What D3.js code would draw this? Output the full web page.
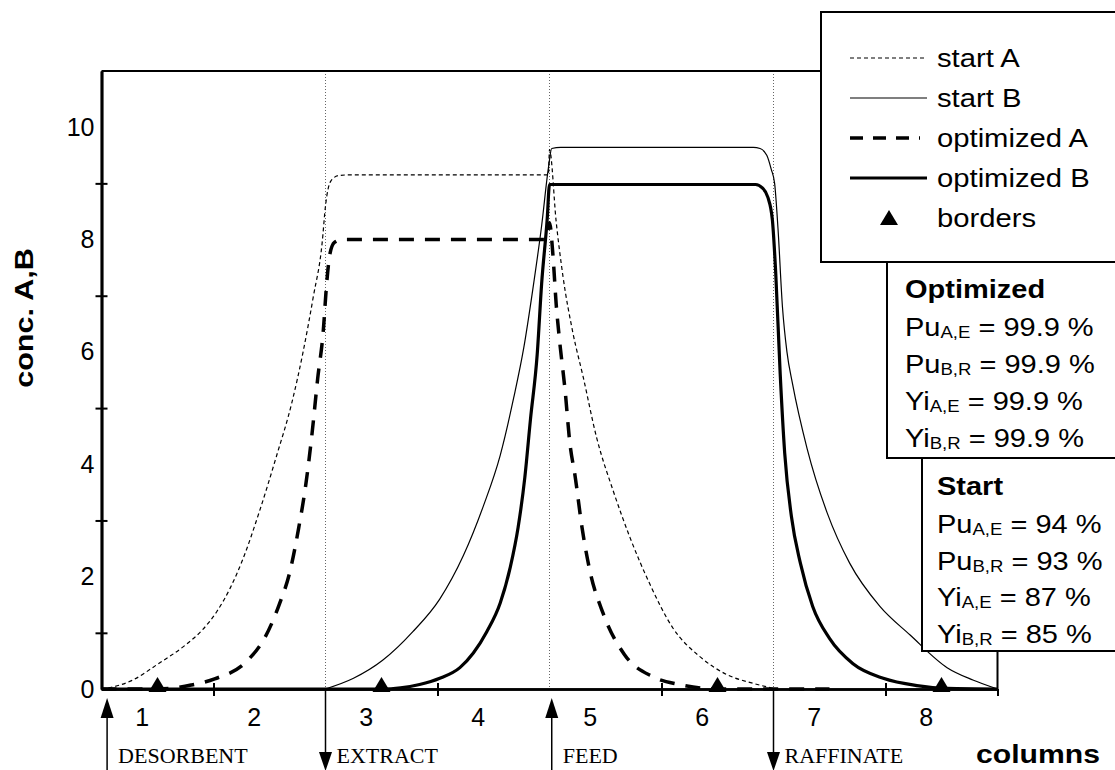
<!DOCTYPE html>
<html>
<head>
<meta charset="utf-8">
<script src="https://d3js.org/d3.v7.min.js"></script>
<style>
  body { margin: 0; background: #fff; }
  text { font-family: "Liberation Sans", Arial, sans-serif; fill: #000; }
</style>
</head>
<body>
<div id="chart"></div>
<script>
// concentration profiles, [column, conc]
var startA = [[0,0],[0.06,0.02],[0.28,0.16],[0.5,0.44],[0.76,0.8],[0.9,1.05],[1.03,1.38],[1.15,1.8],[1.26,2.3],[1.41,3.16],[1.56,4.13],[1.7,5.1],[1.8,6.0],[1.89,6.97],[1.97,7.94],[2.0,8.6],[2.05,9.05],[2.12,9.14],[2.2,9.15],[3.99,9.15],[4.0,9.6],[4.06,8.31],[4.12,7.35],[4.21,6.33],[4.3,5.56],[4.42,4.48],[4.57,3.52],[4.72,2.69],[4.9,1.85],[5.1,1.09],[5.34,0.58],[5.58,0.26],[5.82,0.1],[6.0,0.01]];
var startB = [[2.0,0],[2.25,0.19],[2.51,0.51],[2.78,1.02],[3.02,1.6],[3.23,2.37],[3.41,3.26],[3.56,4.16],[3.68,5.18],[3.77,6.07],[3.85,7.1],[3.93,8.25],[3.99,9.27],[4.02,9.62],[4.1,9.64],[5.82,9.64],[5.88,9.62],[5.94,9.5],[5.98,9.25],[6.01,9.0],[6.04,8.2],[6.08,6.8],[6.12,6.0],[6.17,5.43],[6.3,4.28],[6.48,3.13],[6.68,2.24],[6.95,1.47],[7.22,0.96],[7.55,0.38],[7.78,0.16],[8.0,0]];
var optA = [[0,0],[0.5,0],[0.8,0.07],[1.01,0.18],[1.3,0.5],[1.46,0.92],[1.59,1.52],[1.68,2.07],[1.76,2.86],[1.82,3.58],[1.88,4.55],[1.93,5.52],[1.98,6.37],[2.01,7.21],[2.04,7.75],[2.08,7.95],[2.15,8.0],[3.96,8.0],[4.0,8.3],[4.03,7.74],[4.06,6.84],[4.09,6.2],[4.14,5.3],[4.18,4.41],[4.23,3.77],[4.29,2.88],[4.36,2.11],[4.48,1.34],[4.67,0.61],[4.92,0.22],[5.16,0.08],[5.4,0.01],[5.6,0],[6.5,0]];
var optB = [[0,0],[2.5,0],[2.84,0.08],[3.02,0.19],[3.2,0.38],[3.32,0.64],[3.44,1.02],[3.56,1.53],[3.65,2.17],[3.72,2.88],[3.78,3.77],[3.83,4.8],[3.89,5.95],[3.93,7.22],[3.98,8.38],[4.0,8.98],[4.05,8.98],[5.84,8.98],[5.9,8.92],[5.95,8.75],[5.99,8.35],[6.02,7.4],[6.06,5.6],[6.1,4.2],[6.16,3.07],[6.24,2.24],[6.35,1.47],[6.5,0.9],[6.71,0.45],[6.98,0.19],[7.28,0.06],[7.55,0.01],[8.0,0]];

var borders = [0.5, 2.5, 5.5, 7.5];
var yLabels = [0, 2, 4, 6, 8, 10];
var yTicks = [1, 3, 5, 7, 9];
var columns = [1, 2, 3, 4, 5, 6, 7, 8];
var xTicks = [1, 3, 5, 7, 8];
var boundaries = [2, 4, 6];
var ports = [
  { name: "DESORBENT", col: 0.05, dir: "in" },
  { name: "EXTRACT", col: 2, dir: "out" },
  { name: "FEED", col: 4.02, dir: "in" },
  { name: "RAFFINATE", col: 6, dir: "out" }
];
var legendNames = ["start A", "start B", "optimized A", "optimized B", "borders"];
var optStats = [["Pu", "A,E", "99.9"], ["Pu", "B,R", "99.9"], ["Yi", "A,E", "99.9"], ["Yi", "B,R", "99.9"]];
var startStats = [["Pu", "A,E", "94"], ["Pu", "B,R", "93"], ["Yi", "A,E", "87"], ["Yi", "B,R", "85"]];

var width = 1115, height = 770;

var svg = d3.select("#chart").append("svg")
  .attr("width", width)
  .attr("height", height);

var x = d3.scaleLinear().domain([0, 8]).range([101.5, 997.5]);
var y = d3.scaleLinear().domain([0, 11]).range([689, 71]);

// text helper, sx stretches glyphs horizontally like the scan
function txt(sel, tx, ty, s, o) {
  o = o || {};
  var t = sel.append("text")
    .attr("transform", "translate(" + tx + "," + ty + ")" + (o.rot ? " rotate(" + o.rot + ")" : "") + " scale(" + (o.sx || 1) + ",1)")
    .style("font-size", (o.size || 25) + "px")
    .style("font-weight", o.weight || "normal");
  if (o.anchor) t.attr("text-anchor", o.anchor);
  if (o.family) t.style("font-family", o.family);
  if (s !== null) t.text(s);
  return t;
}

// column boundaries (dotted)
svg.append("g").selectAll("line")
  .data(boundaries).enter().append("line")
  .attr("x1", d => x(d)).attr("x2", d => x(d))
  .attr("y1", y(11)).attr("y2", y(0))
  .attr("stroke", "#666").attr("stroke-width", 1)
  .attr("stroke-dasharray", "1,2");

// frame top/right
svg.append("path")
  .attr("d", "M" + x(0) + "," + y(11) + "H" + x(8) + "V" + y(0))
  .attr("fill", "none").attr("stroke", "#000").attr("stroke-width", 2);

// curves
var line = d3.line()
  .x(d => x(d[0]))
  .y(d => y(d[1]))
  .curve(d3.curveMonotoneX);

var series = [
  { data: startA, w: 1.2, dash: "4,3" },
  { data: startB, w: 1.2, dash: null },
  { data: optA, w: 3.5, dash: "15,11" },
  { data: optB, w: 3.2, dash: null }
];
svg.append("g").selectAll("path")
  .data(series).enter().append("path")
  .attr("d", d => line(d.data))
  .attr("fill", "none")
  .attr("stroke", "#000")
  .attr("stroke-width", d => d.w)
  .attr("stroke-dasharray", d => d.dash);

// Y axis: crossing ticks at odd values, labels at even values
function styleAxis(g) {
  g.attr("font-family", null).attr("font-size", null);
  g.select(".domain").attr("stroke-width", 2.5);
  g.selectAll(".tick line").attr("stroke-width", 2);
  g.selectAll(".tick text").style("font-size", "25px");
}
svg.append("g").attr("transform", "translate(" + x(0) + ",0)")
  .call(d3.axisLeft(y).tickValues(yTicks).tickSize(6).tickSizeOuter(0).tickFormat(""))
  .call(styleAxis);
svg.append("g").attr("transform", "translate(" + x(0) + ",0)")
  .call(d3.axisRight(y).tickValues(yTicks).tickSize(6).tickSizeOuter(0).tickFormat(""))
  .call(styleAxis);
svg.append("g").attr("transform", "translate(" + x(0) + ",0)")
  .call(d3.axisLeft(y).tickValues(yLabels).tickSize(0).tickSizeOuter(0).tickPadding(7).tickFormat(d3.format("d")))
  .call(styleAxis);

// X axis
svg.append("g").attr("transform", "translate(0," + y(0) + ")")
  .call(d3.axisBottom(x).tickValues(xTicks).tickSize(7).tickSizeOuter(0).tickFormat(""))
  .call(styleAxis);
svg.append("g").attr("transform", "translate(0," + y(0) + ")")
  .call(d3.axisTop(x).tickValues(xTicks.slice(0, 4)).tickSize(6).tickSizeOuter(0).tickFormat(""))
  .call(styleAxis);
svg.append("g").attr("transform", "translate(0," + y(0) + ")")
  .call(d3.axisBottom(x).tickValues(columns.map(c => c - 0.64)).tickSize(0).tickSizeOuter(0).tickPadding(19)
    .tickFormat((d, i) => columns[i]))
  .call(styleAxis)
  .call(g => g.select(".domain").remove());

// border markers
function tri(cx, cy, w, h) {
  return "M" + (cx - w / 2) + "," + cy + "L" + cx + "," + (cy - h) + "L" + (cx + w / 2) + "," + cy + "Z";
}
svg.append("g").selectAll("path")
  .data(borders).enter().append("path")
  .attr("d", d => tri(x(d), y(0) + 3, 18, 15))
  .attr("fill", "#000");

// port arrows and names
var pg = svg.append("g");
ports.forEach(function(p) {
  var px = x(p.col);
  if (p.dir === "in") {
    pg.append("line").attr("x1", px).attr("x2", px).attr("y1", 770).attr("y2", 716)
      .attr("stroke", "#000").attr("stroke-width", 1.5);
    pg.append("path").attr("d", tri(px, 718, 13, 20)).attr("fill", "#000");
  } else {
    pg.append("line").attr("x1", px).attr("x2", px).attr("y1", y(0)).attr("y2", 754)
      .attr("stroke", "#000").attr("stroke-width", 1.5);
    pg.append("path").attr("d", "M" + (px - 6.5) + ",752L" + px + ",771L" + (px + 6.5) + ",752Z").attr("fill", "#000");
  }
  txt(pg, px + 11, 763, p.name, { size: 22, family: "'Liberation Serif', 'Times New Roman', serif" });
});

// axis titles
txt(svg, 976, 763, "columns", { size: 26, weight: "bold", sx: 1.16 });
txt(svg, 33, 318, "conc. A,B", { size: 25, weight: "bold", sx: 1.22, rot: -90, anchor: "middle" });

// legend box
var lg = svg.append("g");
lg.append("rect").attr("x", 821).attr("y", 12).attr("width", 310).attr("height", 250)
  .attr("fill", "#fff").attr("stroke", "#000").attr("stroke-width", 2);
legendNames.forEach(function(name, i) {
  var cy = 58 + i * 40;
  if (i < 4) {
    var s = series[i];
    lg.append("line").attr("x1", 850).attr("x2", i === 2 ? 920 : 927).attr("y1", cy).attr("y2", cy)
      .attr("stroke", "#000").attr("stroke-width", s.w).attr("stroke-dasharray", i === 2 ? "13,10" : s.dash);
  } else {
    lg.append("path").attr("d", tri(889, cy + 7, 18, 15)).attr("fill", "#000");
  }
  txt(lg, 937, cy + 9, name, { size: 25, sx: 1.17 });
});

// stats boxes
function statsBox(bx, by, bw, bh, tx, title, stats, top, step) {
  var g = svg.append("g");
  g.append("rect").attr("x", bx).attr("y", by).attr("width", bw).attr("height", bh)
    .attr("fill", "#fff").attr("stroke", "#000").attr("stroke-width", 2);
  txt(g, tx, top, title, { size: 25, weight: "bold", sx: 1.16 });
  stats.forEach(function(s, i) {
    var t = txt(g, tx, top + 38 + i * step, null, { size: 25, sx: 1.16 });
    t.append("tspan").text(s[0]);
    t.append("tspan").attr("dy", 2).style("font-size", "16px").text(s[1]);
    t.append("tspan").attr("dy", -2).text(" = " + s[2] + " %");
  });
}
statsBox(887, 262, 240, 196, 905, "Optimized", optStats, 298, 37);
statsBox(922, 458, 210, 193, 937, "Start", startStats, 495, 36.5);
</script>
</body>
</html>
